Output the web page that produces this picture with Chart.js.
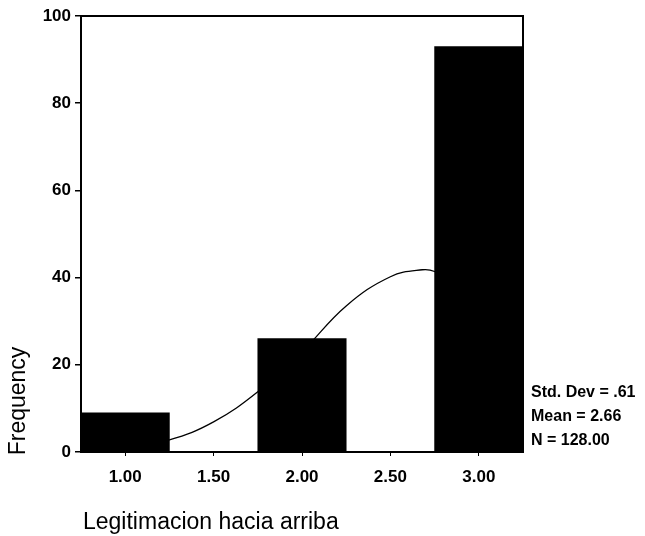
<!DOCTYPE html>
<html>
<head>
<meta charset="utf-8">
<script src="https://cdn.jsdelivr.net/npm/chart.js@4/dist/chart.umd.min.js"></script>
<style>
  html, body { margin: 0; padding: 0; background: #fff; }
  #wrap { width: 645px; height: 536px; position: relative; }
</style>
</head>
<body>
<div id="wrap"><canvas id="c" width="645" height="536"></canvas></div>
<script>
// Histogram bins (midpoints) and counts
const binCenters = [1.0, 2.0, 3.0];
const frequencies = [9, 26, 93];

// Fitted normal curve, sampled along the x range
const curveX = [0.75, 1.0, 1.25, 1.5, 1.75, 2.0, 2.25, 2.5, 2.68, 2.75, 3.0, 3.25];
const curveY = [0.6, 1.3, 2.8, 6.9, 13.8, 23, 33.5, 40.2, 41.8, 41.4, 36, 27];

// Axis ticks
const xTicks = [1.0, 1.5, 2.0, 2.5, 3.0];
const xTickLabels = ['1.00', '1.50', '2.00', '2.50', '3.00'];
const yTicks = [0, 20, 40, 60, 80, 100];

// Summary statistics shown beside the plot
const statLines = ['Std. Dev = .61', 'Mean = 2.66', 'N = 128.00'];

const xTitle = 'Legitimacion hacia arriba';
const yTitle = 'Frequency';

const FONT = '"Liberation Sans", Arial, sans-serif';

const framePlugin = {
  id: 'frameAndText',
  afterDatasetsDraw(chart) {
    const { ctx, chartArea: a } = chart;
    ctx.save();
    ctx.strokeStyle = '#000';
    ctx.lineWidth = 2;
    ctx.strokeRect(a.left, a.top, a.right - a.left, a.bottom - a.top);
    ctx.restore();
  },
  afterDraw(chart) {
    const { ctx, chartArea: a } = chart;
    ctx.save();
    ctx.fillStyle = '#000';
    // statistics block
    ctx.font = 'bold 16px ' + FONT;
    ctx.textAlign = 'left';
    ctx.textBaseline = 'middle';
    const statY = [393, 417, 441];
    statLines.forEach((t, i) => ctx.fillText(t, a.right + 8, statY[i]));
    // x axis title
    ctx.font = '23px ' + FONT;
    ctx.textAlign = 'left';
    ctx.textBaseline = 'middle';
    ctx.fillText(xTitle, 83, 523);
    // y axis title
    ctx.translate(19, 401);
    ctx.rotate(-Math.PI / 2);
    ctx.textAlign = 'center';
    ctx.fillText(yTitle, 0, 0);
    ctx.restore();
  }
};

new Chart(document.getElementById('c'), {
  data: {
    datasets: [
      {
        type: 'line',
        data: curveX.map((x, i) => ({ x, y: curveY[i] })),
        borderColor: '#000',
        borderWidth: 1.3,
        pointRadius: 0,
        tension: 0.4,
        fill: false,
        order: 0
      },
      {
        type: 'bar',
        data: binCenters.map((x, i) => ({ x, y: frequencies[i] })),
        backgroundColor: '#000',
        borderWidth: 0,
        barPercentage: 1.0,
        categoryPercentage: 1.0,
        order: 1
      }
    ]
  },
  options: {
    responsive: false,
    animation: false,
    layout: { padding: { left: 0, top: 16, right: 122, bottom: 0 } },
    plugins: { legend: { display: false }, tooltip: { enabled: false } },
    scales: {
      x: {
        type: 'linear',
        offset: false,
        min: 0.75,
        max: 3.25,
        afterBuildTicks(s) { s.ticks = xTicks.map(v => ({ value: v })); },
        afterFit(s) { s.height = 84; },
        grid: { drawOnChartArea: false, offset: false, tickLength: 4, color: '#000', lineWidth: 1 },
        border: { color: '#000', width: 2 },
        ticks: {
          color: '#000',
          padding: 11,
          maxRotation: 0,
          font: { family: FONT, size: 17, weight: 'bold' },
          callback: (v) => {
            const i = xTicks.indexOf(v);
            return i >= 0 ? xTickLabels[i] : '';
          }
        }
      },
      y: {
        min: 0,
        max: 100,
        afterBuildTicks(s) { s.ticks = yTicks.map(v => ({ value: v })); },
        afterFit(s) { s.width = 81; },
        grid: { drawOnChartArea: false, tickLength: 6, color: '#000', lineWidth: 1.5 },
        border: { color: '#000', width: 2 },
        ticks: {
          color: '#000',
          padding: 4,
          font: { family: FONT, size: 17, weight: 'bold' }
        }
      }
    }
  },
  plugins: [framePlugin]
});
</script>
</body>
</html>
